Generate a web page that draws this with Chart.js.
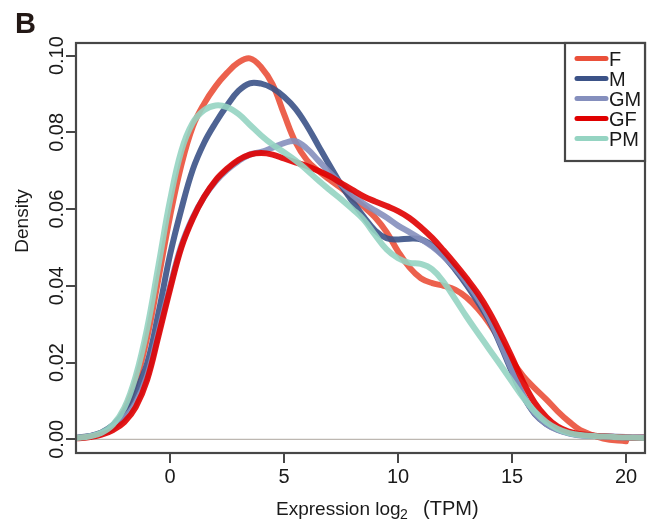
<!DOCTYPE html>
<html>
<head>
<meta charset="utf-8">
<script src="https://cdn.jsdelivr.net/npm/chart.js@4"></script>
<style>
  body { margin: 0; background: #fff; }
  canvas { display: block; }
</style>
</head>
<body>
<canvas id="density-chart" width="660" height="524"></canvas>
<script>
// expression grid, log2(TPM)
const xs = [-4.5, -4, -3.5, -3, -2.5, -2, -1.5, -1, -0.5, 0, 0.5, 1, 1.5, 2, 2.5, 3, 3.5, 4, 4.5, 5,
  5.5, 6, 6.5, 7, 7.5, 8, 8.5, 9, 9.5, 10, 10.5, 11, 11.5, 12, 12.5, 13, 13.5, 14, 14.5, 15,
  15.5, 16, 16.5, 17, 17.5, 18, 19, 20, 21];

// density
const densF = [0.0002, 0.0004, 0.0008, 0.0017, 0.0035, 0.0075, 0.015, 0.0265, 0.042, 0.058, 0.0715, 0.0815, 0.0875, 0.092, 0.0955, 0.0982, 0.0993, 0.097, 0.0925, 0.0848,
  0.0775, 0.0728, 0.070, 0.0677, 0.0655, 0.063, 0.0606, 0.0578, 0.054, 0.049, 0.0448, 0.042, 0.0407, 0.040, 0.039, 0.037, 0.034, 0.0302, 0.0255, 0.0205,
  0.0164, 0.0133, 0.0104, 0.0073, 0.0046, 0.0024, 0.0002, -0.0005, null];
const densM = [0.0002, 0.0005, 0.0009, 0.0018, 0.0037, 0.007, 0.0125, 0.0198, 0.033, 0.048, 0.060, 0.0703, 0.0773, 0.0825, 0.087, 0.0908, 0.0928, 0.0927, 0.0915, 0.0893,
  0.0862, 0.0818, 0.0766, 0.0714, 0.0664, 0.062, 0.058, 0.0544, 0.0524, 0.0521, 0.0523, 0.0521, 0.0505, 0.0478, 0.0443, 0.0403, 0.0358, 0.031, 0.0245, 0.0175,
  0.0112, 0.0066, 0.004, 0.0025, 0.0016, 0.0011, 0.0008, 0.0005, 0.0004];
const densGM = [0.0002, 0.0004, 0.0008, 0.0015, 0.003, 0.0055, 0.0095, 0.0165, 0.028, 0.0398, 0.0505, 0.0578, 0.0632, 0.0672, 0.0702, 0.0725, 0.0742, 0.0749, 0.076, 0.0772,
  0.0777, 0.0758, 0.0727, 0.0695, 0.0665, 0.0637, 0.0614, 0.0596, 0.0578, 0.0557, 0.054, 0.0522, 0.0502, 0.0477, 0.0447, 0.041, 0.0368, 0.0315, 0.025, 0.018,
  0.0113, 0.0067, 0.004, 0.0024, 0.0015, 0.001, 0.0008, 0.0006, 0.0005];
const densGF = [0.0002, 0.0003, 0.0006, 0.0012, 0.0024, 0.0045, 0.0084, 0.0155, 0.027, 0.039, 0.050, 0.0575, 0.0632, 0.0675, 0.0705, 0.0728, 0.0742, 0.0746, 0.0742, 0.0732,
  0.0722, 0.0712, 0.070, 0.0686, 0.0668, 0.065, 0.0633, 0.062, 0.0608, 0.0595, 0.0577, 0.0553, 0.0525, 0.0492, 0.0457, 0.042, 0.038, 0.0332, 0.0275, 0.0213,
  0.0148, 0.0095, 0.0058, 0.0033, 0.002, 0.0013, 0.0008, 0.0005, 0.0004];
const densPM = [0.0002, 0.0004, 0.0008, 0.0017, 0.0038, 0.0082, 0.0165, 0.029, 0.0455, 0.0622, 0.0752, 0.0825, 0.0858, 0.087, 0.0866, 0.0848, 0.082, 0.0792, 0.0768, 0.0748,
  0.0727, 0.0702, 0.0675, 0.065, 0.0626, 0.060, 0.0572, 0.0532, 0.0495, 0.0472, 0.046, 0.0457, 0.0443, 0.041, 0.0366, 0.032, 0.0277, 0.0235, 0.0193, 0.015,
  0.0108, 0.0072, 0.0045, 0.0027, 0.0016, 0.0011, 0.0007, 0.0005, 0.0003];

const groups = ['F', 'M', 'GM', 'GF', 'PM'];
const groupColors = ['234,80,58', '59,82,135', '133,143,189', '224,0,0', '149,212,194'];
const xTicks = [0, 5, 10, 15, 20];
const yTicks = [0, 0.02, 0.04, 0.06, 0.08, 0.10];
const yTickLabels = ['0.00', '0.02', '0.04', '0.06', '0.08', '0.10'];

const FONT = '"Liberation Sans", Arial, sans-serif';
const INK = '#1a1a1a';
const FRAME = '#474747';

const seriesValues = [densF, densM, densGM, densGF, densPM];

let datasets = groups.map((g, i) => ({
  label: g,
  data: xs.map((x, k) => ({ x: x, y: seriesValues[i][k] })),
  borderColor: 'rgba(' + groupColors[i] + ',0.9)',
  borderWidth: 6,
  borderCapStyle: 'round',
  borderJoinStyle: 'round',
  tension: 0.4,
  pointRadius: 0,
  fill: false,
  spanGaps: false,
  clip: 1,
  order: groups.length - i   // later groups drawn on top, like R
}));

const rStyle = {
  id: 'rStyle',
  beforeDatasetsDraw(chart) {
    const { ctx, chartArea: a, scales: { y } } = chart;
    const y0 = y.getPixelForValue(0);
    ctx.save();
    ctx.strokeStyle = '#bdb7b1';
    ctx.lineWidth = 1.3;
    ctx.beginPath();
    ctx.moveTo(a.left, y0);
    ctx.lineTo(a.right, y0);
    ctx.stroke();
    ctx.restore();
  },
  afterDatasetsDraw(chart) {
    const { ctx, chartArea: a } = chart;
    ctx.save();
    ctx.strokeStyle = FRAME;
    ctx.lineWidth = 2.2;
    ctx.strokeRect(a.left, a.top, a.right - a.left, a.bottom - a.top);

    // legend box, top right
    const lw = 80, lh = 118;
    const lx = a.right - lw, ly = a.top;
    ctx.fillStyle = '#fff';
    ctx.fillRect(lx, ly, lw, lh);
    ctx.strokeRect(lx, ly, lw, lh);
    ctx.font = '20px ' + FONT;
    ctx.textAlign = 'left';
    ctx.textBaseline = 'alphabetic';
    groups.forEach((g, i) => {
      const yy = ly + 15.5 + i * 20;
      ctx.strokeStyle = 'rgb(' + groupColors[i] + ')';
      ctx.lineWidth = 5;
      ctx.lineCap = 'round';
      ctx.beginPath();
      ctx.moveTo(lx + 12, yy);
      ctx.lineTo(lx + 41, yy);
      ctx.stroke();
      ctx.fillStyle = INK;
      ctx.fillText(g, lx + 44, yy + 7.5);
    });
    ctx.restore();
  },
  afterDraw(chart) {
    const { ctx, scales: { y } } = chart;
    ctx.save();
    ctx.fillStyle = INK;

    // y tick labels, rotated like R's default
    ctx.font = '20px ' + FONT;
    ctx.textAlign = 'center';
    ctx.textBaseline = 'alphabetic';
    yTicks.forEach((v, i) => {
      ctx.save();
      ctx.translate(63, y.getPixelForValue(v));
      ctx.rotate(-Math.PI / 2);
      ctx.fillText(yTickLabels[i], 0, 0);
      ctx.restore();
    });

    // y title
    ctx.font = '19px ' + FONT;
    ctx.save();
    ctx.translate(28, 221);
    ctx.rotate(-Math.PI / 2);
    ctx.fillText('Density', 0, 0);
    ctx.restore();

    // x title with subscript
    ctx.textAlign = 'left';
    ctx.font = '19px ' + FONT;
    ctx.fillText('Expression log', 276, 515);
    ctx.font = '14px ' + FONT;
    ctx.fillText('2', 400, 519);
    ctx.font = '20px ' + FONT;
    ctx.fillText('(TPM)', 423, 515);

    // panel letter
    ctx.fillStyle = '#231815';
    ctx.font = 'bold 29px ' + FONT;
    ctx.fillText('B', 15, 33);
    ctx.restore();
  }
};

new Chart(document.getElementById('density-chart'), {
  type: 'line',
  data: { datasets },
  options: {
    responsive: false,
    animation: false,
    events: [],
    layout: { padding: { left: 0, top: 43, right: 15, bottom: 0 } },
    plugins: { legend: { display: false }, tooltip: { enabled: false } },
    scales: {
      x: {
        type: 'linear',
        min: -4.12,
        max: 20.83,
        afterBuildTicks: (s) => { s.ticks = xTicks.map(v => ({ value: v })); },
        afterFit: (s) => { s.height = 71; },
        border: { display: false },
        grid: { drawOnChartArea: false, drawTicks: true, tickLength: 10, tickWidth: 2, lineWidth: 2, tickColor: FRAME, color: FRAME },
        ticks: { font: { size: 20, family: FONT }, color: INK, padding: 2, maxRotation: 0, callback: (v) => String(v) }
      },
      y: {
        type: 'linear',
        min: -0.00357,
        max: 0.1033,
        afterBuildTicks: (s) => { s.ticks = yTicks.map(v => ({ value: v })); },
        afterFit: (s) => { s.width = 76; },
        border: { display: false },
        grid: { drawOnChartArea: false, drawTicks: true, tickLength: 10, tickWidth: 2, lineWidth: 2, tickColor: FRAME, color: FRAME },
        ticks: { display: false }
      }
    }
  },
  plugins: [rStyle]
});
</script>
</body>
</html>
